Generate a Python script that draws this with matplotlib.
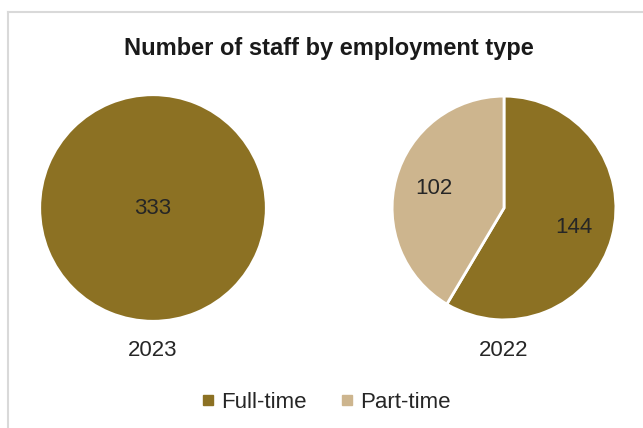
import matplotlib
matplotlib.use("Agg")
import matplotlib.pyplot as plt
from matplotlib.lines import Line2D

plt.rcParams["font.family"] = ["Liberation Sans", "DejaVu Sans"]

# data
categories = ["Full-time", "Part-time"]
years = ["2023", "2022"]
values_2023 = [333, 0]
values_2022 = [144, 102]
colors = ["#8C7123", "#CDB58E"]
text_color = "#262626"

W, H = 643, 428
fig = plt.figure(figsize=(W / 100, H / 100), dpi=100)


def px_axes(cx, cy, r):
    """Square axes centred on pixel (cx, cy) with radius r (pixels, y from top)."""
    return fig.add_axes([(cx - r) / W, (H - cy - r) / H, 2 * r / W, 2 * r / H])


def draw_pie(ax, values, year, single):
    vals = [v for v in values if v > 0]
    cols = [c for v, c in zip(values, colors) if v > 0]
    total = sum(vals)
    ax.pie(
        vals,
        colors=cols,
        startangle=90,
        counterclock=False,
        radius=1,
        autopct=lambda p: f"{p * total / 100:.0f}",
        pctdistance=0 if single else 0.65,
        wedgeprops=dict(edgecolor="none" if single else "white", linewidth=2),
        textprops=dict(fontsize=16, color=text_color),
    )
    ax.set_xlim(-1.01, 1.01)
    ax.set_ylim(-1.01, 1.01)
    ax.set_aspect("equal")
    ax.axis("off")
    ax.text(0, -1.27, year, ha="center", va="center", fontsize=16, color=text_color)


ax1 = px_axes(153, 208, 113)
draw_pie(ax1, values_2023, years[0], single=True)
ax2 = px_axes(504, 208, 113)
draw_pie(ax2, values_2022, years[1], single=False)

fig.text(329 / W, 1 - 49 / H, "Number of staff by employment type", ha="center", va="center",
         fontsize=17, fontweight="bold", color="#1a1a1a")

handles = [Line2D([], [], marker="s", linestyle="none", markersize=6.5, color=c) for c in colors]
fig.legend(handles, categories, loc="center", bbox_to_anchor=(326 / W, 1 - 402 / H), ncol=2,
           frameon=False, fontsize=16, handlelength=0.6, handletextpad=0.3,
           columnspacing=1.5, labelcolor=text_color)

# chart border (top and left visible)
fig.add_artist(Line2D([7.5 / W, 7.5 / W], [0, 1 - 11.5 / H], transform=fig.transFigure,
                      color="#D9D9D9", linewidth=1.5))
fig.add_artist(Line2D([7.5 / W, 1], [1 - 11.5 / H, 1 - 11.5 / H], transform=fig.transFigure,
                      color="#D9D9D9", linewidth=1.5))

fig.savefig("out.png", dpi=100)
